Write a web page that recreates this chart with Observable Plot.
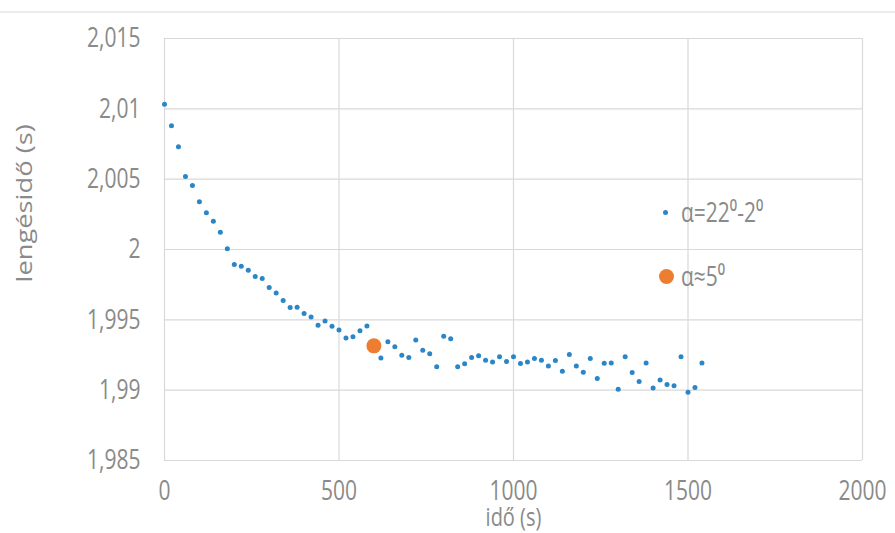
<!DOCTYPE html>
<html>
<head>
<meta charset="utf-8">
<script src="https://cdn.jsdelivr.net/npm/d3@7"></script>
<script src="https://cdn.jsdelivr.net/npm/@observablehq/plot@0.6"></script>
<style>
  html, body { margin: 0; padding: 0; background: #fff; }
  #wrap { position: relative; width: 895px; height: 533px; overflow: hidden; }
  #topline { position: absolute; left: 0; top: 11px; width: 895px; height: 0; border-top: 2px solid #ececec; }
  .leg { position: absolute; font-family: "Open Sans", sans-serif; font-size: 21px; color: #8a8a8a; white-space: nowrap; display: flex; align-items: center; }
  .leg .sw { display: inline-block; border-radius: 50%; flex: none; }
  .leg .tx { display: inline-block; transform: scaleY(1.3); transform-origin: 0 50%; }
</style>
</head>
<body>
<div id="wrap"><div id="topline"></div></div>
<script>
// time (s)
const tBlue = [0,20,40,60,80,100,120,140,160,180,200,220,240,260,280,300,320,340,360,380,
  400,420,440,460,480,500,520,540,560,580,620,640,660,680,700,720,740,760,780,800,
  820,840,860,880,900,920,940,960,980,1000,1020,1040,1060,1080,1100,1120,1140,1160,1180,1200,
  1220,1240,1260,1280,1300,1320,1340,1360,1380,1400,1420,1440,1460,1480,1500,1520,1540];
// period (s), alpha = 22°–2°
const pBlue = [2.01033,2.00879,2.0073,2.00519,2.00455,2.00339,2.00261,2.00201,2.00122,2.00005,
  1.99893,1.99881,1.99853,1.99808,1.99794,1.99730,1.99690,1.99637,1.99587,1.99590,
  1.99545,1.99521,1.99462,1.99491,1.99455,1.99427,1.99370,1.99379,1.99422,1.99457,
  1.99228,1.99344,1.99308,1.99249,1.99232,1.99356,1.99284,1.99258,1.99166,1.99384,
  1.99365,1.99166,1.99187,1.99232,1.99244,1.99213,1.99201,1.99237,1.99203,1.99237,
  1.99190,1.99201,1.99225,1.99213,1.99171,1.99211,1.99135,1.99253,1.99171,1.99128,
  1.99225,1.99083,1.99192,1.99194,1.99007,1.99237,1.99125,1.99061,1.99194,1.99016,
  1.99073,1.99040,1.99031,1.99237,1.98986,1.99019,1.99194];
// alpha ≈ 5°
const tOrange = [600];
const pOrange = [1.99315];

const xTicks = [0, 500, 1000, 1500, 2000];
const xTickLabels = ["0", "500", "1000", "1500", "2000"];
const yTicks = [1.985, 1.99, 1.995, 2, 2.005, 2.01, 2.015];
const yTickLabels = ["1,985", "1,99", "1,995", "2", "2,005", "2,01", "2,015"];
const seriesNames = ["α=22⁰-2⁰", "α≈5⁰"];
const xTitle = "idő (s)";
const yTitle = "lengésidő (s)";

const blue = tBlue.map((t, i) => ({t, p: pBlue[i]}));
const orange = tOrange.map((t, i) => ({t, p: pOrange[i]}));

const FONT = "'Open Sans', sans-serif";
const GRAY = "#8a8a8a";
const BLUE = "#2b86c8";
const ORANGE = "#ed7d31";
const STRETCH = 1.3;

const chart = Plot.plot({
  width: 895,
  height: 533,
  marginLeft: 164,
  marginRight: 33,
  marginTop: 38,
  marginBottom: 73,
  style: {fontFamily: FONT, fontSize: "21px", color: GRAY, background: "transparent"},
  x: {domain: [0, 2000], ticks: xTicks},
  y: {domain: [1.985, 2.015], ticks: yTicks},
  marks: [
    Plot.gridX(xTicks, {stroke: "#d9d9d9", strokeOpacity: 1, strokeWidth: 1.2}),
    Plot.gridY(yTicks, {stroke: "#d9d9d9", strokeOpacity: 1, strokeWidth: 1.2}),
    Plot.axisX(xTicks, {tickSize: 0, tickPadding: 20, label: null, fill: GRAY, fontSize: 21,
      tickFormat: d => xTickLabels[xTicks.indexOf(d)]}),
    Plot.axisY(yTicks, {tickSize: 0, tickPadding: 24, label: null, fill: GRAY, fontSize: 21,
      tickFormat: d => yTickLabels[yTicks.indexOf(d)]}),
    Plot.text([xTitle], {frameAnchor: "bottom", dy: 57, fill: GRAY, fontSize: 20, lineAnchor: "middle"}),
    Plot.text([yTitle], {frameAnchor: "left", dx: -139, dy: 33, rotate: -90, fill: GRAY, fontSize: 21, lineAnchor: "middle"}),
    Plot.dot(blue, {x: "t", y: "p", r: 2.5, fill: BLUE}),
    Plot.dot(orange, {x: "t", y: "p", r: 7.5, fill: ORANGE})
  ]
});

// stretch text vertically (along the image's y direction) to match the reference's tall lettering
chart.querySelectorAll("text").forEach(t => {
  let tr = t.getAttribute("transform");
  if (!tr) {
    const x = t.getAttribute("x") || 0, y = t.getAttribute("y") || 0;
    t.removeAttribute("x"); t.removeAttribute("y");
    tr = `translate(${x},${y})`;
  }
  const rotated = /rotate\(\s*-?90/.test(tr);
  t.setAttribute("transform", tr + (rotated ? ` scale(${STRETCH},1)` : ` scale(1,${STRETCH})`));
});

const wrap = document.getElementById("wrap");
chart.style.position = "absolute";
chart.style.left = "0px";
chart.style.top = "0px";
wrap.appendChild(chart);

function legendRow(name, color, r, cx, cy) {
  const d = document.createElement("div");
  d.className = "leg";
  d.style.left = (cx - r) + "px";
  d.style.top = (cy - 15) + "px";
  d.style.height = "30px";
  const sw = document.createElement("span");
  sw.className = "sw";
  sw.style.width = (2 * r) + "px";
  sw.style.height = (2 * r) + "px";
  sw.style.background = color;
  sw.style.marginRight = (681 - cx - r) + "px";
  d.appendChild(sw);
  const tx = document.createElement("span");
  tx.className = "tx";
  tx.textContent = name;
  d.appendChild(tx);
  wrap.appendChild(d);
}
legendRow(seriesNames[0], BLUE, 2.5, 665, 212);
legendRow(seriesNames[1], ORANGE, 7.5, 666, 276);
</script>
</body>
</html>
